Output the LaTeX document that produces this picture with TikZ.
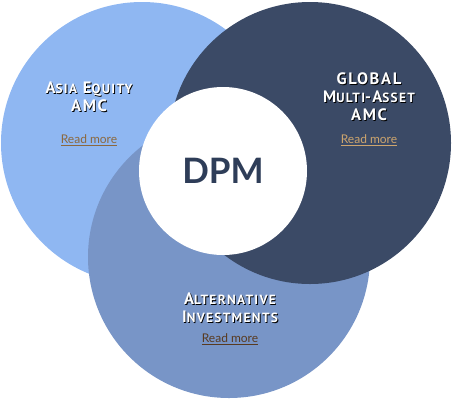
\documentclass[tikz,border=0pt]{standalone}
\usepackage{fontspec}
\setmainfont{Lato}
\newfontfamily\titlefont[LetterSpace=10]{PT Sans}
\usepackage{xcolor}
\definecolor{asiablue}{RGB}{143, 183, 242}
\definecolor{altblue}{RGB}{120, 149, 199}
\definecolor{globalnavy}{RGB}{59, 74, 102}
\definecolor{dpmtext}{RGB}{46, 61, 88}
\definecolor{linkbrown}{RGB}{139, 104, 62}
\definecolor{linkgold}{RGB}{205, 165, 110}
\definecolor{linkdark}{RGB}{88, 58, 32}
\usepackage{tikz}
\usetikzlibrary{positioning}

% white title letters with a dark drop shadow
\newcommand{\shadowed}[1]{\makebox[0pt][l]{\hspace{0.9pt}\raisebox{-0.9pt}{\color{black}#1}}#1}
\newcommand{\lowcaps}[1]{{\fontsize{13.3}{18}\selectfont #1}}

\begin{document}
\begin{tikzpicture}[
  x=1pt, y=-1pt,
  ring/.style={circle, inner sep=0pt, minimum size=282pt},
  title/.style={align=center, text=white, font=\titlefont\bfseries\fontsize{16.5}{18}\selectfont, inner sep=0pt},
  link/.style={font=\fontsize{12}{14}\selectfont, inner sep=0pt}
]
\useasboundingbox (0,0) rectangle (452,400);

\node[ring, fill=asiablue] (asia) at (142,143) {};
\node[ring, fill=altblue] (alt) at (229,257) {};
\node[ring, fill=globalnavy] (global) at (310,143) {};
\node[circle, fill=white, inner sep=0pt, minimum size=168pt] (dpm) at (223,171)
  {\fontsize{35}{40}\selectfont\bfseries\color{dpmtext}DPM};

\node[title] (asiatitle) at (89,97) {
  \shadowed{A\lowcaps{SIA} E\lowcaps{QUITY}}\\
  \shadowed{AMC}
};
\node[link, text=linkbrown] (asialink) at (89,140) {\underline{Read more}};

\node[title] (globaltitle) at (369,97) {
  \shadowed{GLOBAL}\\
  \shadowed{M\lowcaps{ULTI}-A\lowcaps{SSET}}\\
  \shadowed{AMC}
};
\node[link, text=linkgold] (globallink) at (369,140) {\underline{Read more}};

\node[title] (alttitle) at (230,308) {
  \shadowed{A\lowcaps{LTERNATIVE}}\\
  \shadowed{I\lowcaps{NVESTMENTS}}
};
\node[link, text=linkdark] (altlink) at (230,339) {\underline{Read more}};
\end{tikzpicture}
\end{document}
